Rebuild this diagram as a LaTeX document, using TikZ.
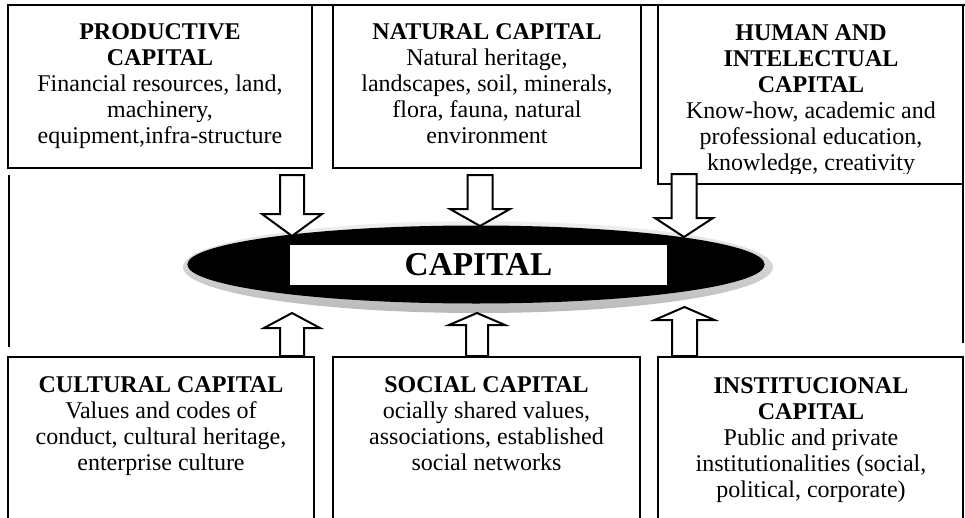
\documentclass[tikz,border=0pt]{standalone}
\usepackage{fontspec}
\setmainfont{Liberation Serif}
\usetikzlibrary{shapes.geometric}
\newcommand\blockarrow[6]{% cx, start y, head base y, tip y, stem half, head half
  \draw[blockarr] ({#1-#5},#2) -- ({#1+#5},#2) -- ({#1+#5},#3) -- ({#1+#6},#3) -- (#1,#4) -- ({#1-#6},#3) -- ({#1-#5},#3) -- cycle;}
\begin{document}
\begin{tikzpicture}[x=0.75pt,y=-0.75pt,
  boxline/.style={draw=black,line width=1.8pt,fill=white},
  frameline/.style={draw=black,line width=1.8pt},
  txt/.style={align=center,inner sep=0pt,anchor=north,font=\fontsize{18pt}{19.5pt}\selectfont},
  blockarr/.style={draw=black,fill=white,line width=1.5pt,line join=miter}]
\useasboundingbox (0,0) rectangle (965,518);
\clip (0,0) rectangle (965,518);
% frame lines
\draw[frameline] (8,5) -- (965,5);
\draw[frameline] (9,175) -- (9,347);
\draw[frameline] (963,184) -- (963,343);
% boxes
\draw[boxline] (8,5) rectangle (312,168);
\draw[boxline] (333,5) rectangle (641,168);
\draw[boxline] (658,5) rectangle (963,184);
\draw[boxline] (8,357) rectangle (314,540);
\draw[boxline] (333,357) rectangle (640,540);
\draw[boxline] (658,357) rectangle (963,540);
% texts
\node[txt] (t1) at (160,23) {\textbf{PRODUCTIVE}\\\textbf{CAPITAL}\\Financial resources, land,\\machinery,\\equipment,infra-structure};
\node[txt] (t2) at (487,23) {\textbf{NATURAL CAPITAL}\\Natural heritage,\\landscapes, soil, minerals,\\flora, fauna, natural\\environment};
\begin{scope}
\clip (660,7) rectangle (961,173);
\node[txt] (t3) at (811,24) {\textbf{HUMAN AND}\\\textbf{INTELECTUAL}\\\textbf{CAPITAL}\\Know-how, academic and\\professional education,\\knowledge, creativity};
\end{scope}
\node[txt] (t4) at (161,376) {\textbf{CULTURAL CAPITAL}\\Values and codes of\\conduct, cultural heritage,\\enterprise culture};
\node[txt] (t5) at (486.5,376) {\textbf{SOCIAL CAPITAL}\\ocially shared values,\\associations, established\\social networks};
\node[txt] (t6) at (811,377) {\textbf{INSTITUCIONAL}\\\textbf{CAPITAL}\\Public and private\\institutionalities (social,\\political, corporate)};
% central ellipse
\node[ellipse,inner sep=0pt,minimum width=442.5pt,minimum height=69pt,top color=gray!12,bottom color=gray!55,draw=none] (rim) at (478,267) {};
\node[ellipse,inner sep=0pt,minimum width=433pt,minimum height=58.5pt,fill=black] (ell) at (476,264.5) {};
\node[fill=white,inner sep=0pt,minimum width=282.75pt,minimum height=30pt,font=\fontsize{25pt}{29pt}\selectfont\bfseries] (cap) at (478.5,265) {CAPITAL};
% block arrows
\blockarrow{292}{175}{214}{236}{12}{30}
\blockarrow{480}{175}{209}{226}{12.5}{30}
\blockarrow{684}{174}{218}{237}{12.5}{29}
\blockarrow{292}{356}{328}{313}{12}{28}
\blockarrow{477}{356}{325}{313}{11}{28}
\blockarrow{684.5}{356}{320}{307}{12.5}{30}
\end{tikzpicture}
\end{document}
